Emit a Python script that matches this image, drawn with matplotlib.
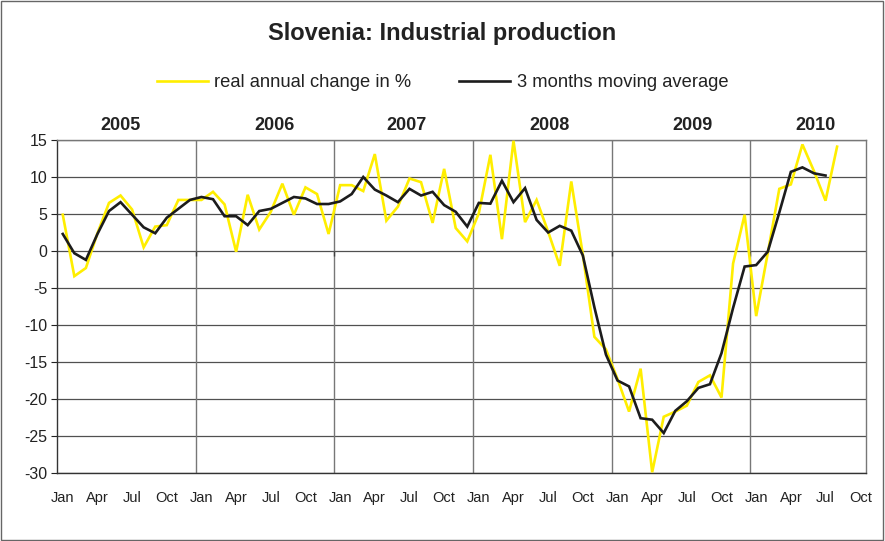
import matplotlib.pyplot as plt
from matplotlib.patches import Rectangle
import numpy as np

plt.rcParams['font.family'] = ['Liberation Sans', 'DejaVu Sans']
plt.rcParams['axes.unicode_minus'] = False

# Monthly data, Jan 2005 - Aug 2010
real_change = [
    4.9, -3.4, -2.3, 2.4, 6.5, 7.5, 5.6, 0.5, 3.3, 3.5, 6.9, 6.9,          # 2005
    6.9, 8.0, 6.3, -0.1, 7.6, 2.9, 5.3, 9.1, 4.9, 8.6, 7.7, 2.3,           # 2006
    8.9, 8.9, 8.1, 13.1, 4.1, 6.0, 9.8, 9.3, 3.8, 11.1, 3.1, 1.3,          # 2007
    5.1, 13.0, 1.6, 14.9, 3.9, 6.9, 2.6, -2.0, 9.4, -0.5, -11.6, -13.3,    # 2008
    -17.3, -21.7, -15.9, -29.9, -22.4, -21.7, -20.9, -17.7, -16.8, -19.8, -1.7, 4.9,  # 2009
    -8.8, -0.3, 8.4, 9.0, 14.4, 10.8, 6.8, 14.1,                           # 2010
]
moving_avg = [
    2.3, -0.3, -1.2, 2.3, 5.4, 6.6, 4.9, 3.2, 2.4, 4.5, 5.7, 6.9,
    7.3, 7.0, 4.7, 4.7, 3.5, 5.4, 5.7, 6.5, 7.3, 7.1, 6.35, 6.35,
    6.7, 7.7, 10.0, 8.3, 7.5, 6.6, 8.4, 7.5, 8.0, 6.2, 5.3, 3.3,
    6.5, 6.4, 9.5, 6.6, 8.5, 4.2, 2.5, 3.4, 2.75, -0.6, -7.6, -14.0,
    -17.5, -18.3, -22.6, -22.8, -24.6, -21.6, -20.3, -18.5, -18.0, -13.8, -7.7, -2.1,
    -1.9, -0.1, 5.2, 10.7, 11.3, 10.5, 10.2,
]
years = ['2005', '2006', '2007', '2008', '2009', '2010']
month_labels = ['Jan', 'Apr', 'Jul', 'Oct']
n_slots = 70  # Jan 2005 .. Oct 2010

fig = plt.figure(figsize=(8.85, 5.41), dpi=100)
ax = fig.add_axes([0.0644, 0.1257, 0.9141, 0.6155])

x1 = np.arange(len(real_change))
x2 = np.arange(len(moving_avg))
ax.plot(x1, real_change, color='#FFEE00', lw=1.9, solid_joinstyle='miter',
        label='real annual change in %', zorder=3)
ax.plot(x2, moving_avg, color='#1c1c1c', lw=1.9, solid_joinstyle='miter',
        label='3 months moving average', zorder=4)

ax.set_xlim(-0.5, n_slots - 0.5)
ax.set_ylim(-30, 15)
ax.set_yticks(np.arange(-30, 16, 5))
ax.yaxis.grid(True, color='#505050', lw=0.9)
ax.set_axisbelow(True)

# year separators
for k in range(1, len(years)):
    ax.axvline(12 * k - 0.5, color='#777777', lw=1.0, zorder=1)
ax.vlines([12 * k - 0.5 for k in range(1, len(years))], -0.7, 0,
          color='#404040', lw=1.0, zorder=2)

ticks = np.arange(0, n_slots, 3)
ax.set_xticks(ticks)
ax.set_xticklabels([month_labels[(t // 3) % 4] for t in ticks], fontsize=10.5)
ax.tick_params(axis='x', length=0, pad=13, colors='#222222')
ax.tick_params(axis='y', length=4, labelsize=11.5, colors='#222222', pad=3)

for side in ['left', 'bottom']:
    ax.spines[side].set_color('#333333')
    ax.spines[side].set_linewidth(1.0)
for side in ['top', 'right']:
    ax.spines[side].set_color('#777777')
    ax.spines[side].set_linewidth(1.0)

# year labels above the plot area
year_x = [4.96, 18.3, 29.7, 42.1, 54.5, 65.1]
for yx, yr in zip(year_x, years):
    ax.text(yx, 1.045, yr, transform=ax.get_xaxis_transform(), ha='center',
            va='center', fontsize=13, fontweight='bold', color='#222222')

fig.text(0.5, 0.938, 'Slovenia: Industrial production', ha='center', va='center',
         fontsize=17, fontweight='bold', color='#222222')

ax.legend(loc='center', bbox_to_anchor=(0.5, 0.847), bbox_transform=fig.transFigure,
          ncol=2, frameon=False, fontsize=13.2, handlelength=2.8, handletextpad=0.35,
          columnspacing=2.6, labelcolor='#222222')

fig.patches.append(Rectangle((0.001, 0.001), 0.997, 0.997, transform=fig.transFigure,
                             fill=False, edgecolor='#666666', lw=1.0))

fig.savefig('out.png', dpi=100)
